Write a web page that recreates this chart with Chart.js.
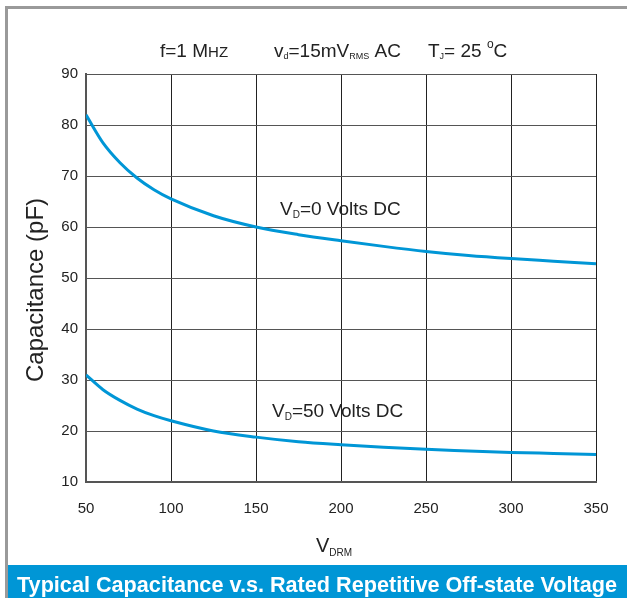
<!DOCTYPE html>
<html>
<head>
<meta charset="utf-8">
<script src="https://cdn.jsdelivr.net/npm/chart.js@4"></script>
<style>
  html, body { margin: 0; padding: 0; background: #fff; }
  #wrap { width: 627px; height: 598px; position: relative; }
</style>
</head>
<body>
<div id="wrap"><canvas id="cap"></canvas></div>
<script>
// off-state voltage V_DRM (V)
var vdrm = [50, 60, 70, 80, 90, 100, 125, 150, 175, 200, 225, 250, 275, 300, 325, 350];
// capacitance (pF)
var capVd0 = [82, 76.5, 72.6, 69.6, 67.3, 65.5, 62.2, 60, 58.5, 57.3, 56.2, 55.2, 54.4, 53.8, 53.3, 52.8];
var capVd50 = [31, 28.1, 26.0, 24.3, 23.0, 22.0, 20.0, 18.8, 17.9, 17.3, 16.8, 16.4, 16.1, 15.8, 15.6, 15.4];
var xTicks = [50, 100, 150, 200, 250, 300, 350];
var yTicks = [10, 20, 30, 40, 50, 60, 70, 80, 90];

var FONT = '"Liberation Sans", Arial, Helvetica, sans-serif';
var BLUE = '#0096d6';

function pts(ys) {
    return vdrm.map(function (v, i) { return { x: v, y: ys[i] }; });
}

// draws text pieces: [text, size, dy]
function runs(ctx, x, y, parts) {
    parts.forEach(function (p) {
        ctx.font = p[1] + 'px ' + FONT;
        ctx.fillText(p[0], x, y + (p[2] || 0));
        x += ctx.measureText(p[0]).width;
    });
}

var decor = {
    id: 'decor',
    beforeDraw: function (chart) {
        var ctx = chart.ctx;
        ctx.save();
        ctx.fillStyle = '#fff';
        ctx.fillRect(0, 0, 627, 598);
        // frame
        ctx.fillStyle = '#9a9a9a';
        ctx.fillRect(5, 6, 3, 592);
        ctx.fillRect(5, 6, 622, 3);
        // banner
        ctx.fillStyle = BLUE;
        ctx.fillRect(8, 565, 619, 33);
        ctx.fillStyle = '#fff';
        ctx.textBaseline = 'alphabetic';
        var banner = 'Typical Capacitance v.s. Rated Repetitive Off-state Voltage';
        ctx.font = 'bold 22px ' + FONT;
        var w = ctx.measureText(banner).width;
        ctx.translate(17, 592);
        ctx.scale(600 / w, 1);
        ctx.fillText(banner, 0, 0);
        ctx.restore();
    },
    afterDraw: function (chart) {
        var ctx = chart.ctx;
        ctx.save();
        ctx.fillStyle = '#222';
        ctx.textBaseline = 'alphabetic';
        ctx.textAlign = 'left';
        // header conditions
        runs(ctx, 160, 57, [['f=1 M', 19], ['HZ', 15]]);
        runs(ctx, 274, 57, [['v', 19], ['d', 9, 2], ['=15mV', 19], ['RMS', 9, 2], [' AC', 19]]);
        runs(ctx, 428, 57, [['T', 19], ['J', 9, 2], ['= 25 ', 19], ['o', 12, -9], ['C', 19]]);
        // curve labels
        runs(ctx, 280, 215, [['V', 19], ['D', 10, 3], ['=0 Volts DC', 19]]);
        runs(ctx, 272, 417, [['V', 19], ['D', 10, 3], ['=50 Volts DC', 19]]);
        // x title
        runs(ctx, 316, 552, [['V', 20], ['DRM', 10, 4]]);
        // y title
        ctx.translate(43, 290);
        ctx.rotate(-Math.PI / 2);
        ctx.textAlign = 'center';
        ctx.font = '24px ' + FONT;
        ctx.fillText('Capacitance (pF)', 0, 0);
        ctx.restore();
    }
};

new Chart(document.getElementById('cap'), {
    type: 'line',
    data: {
        datasets: [
            { label: 'VD=0 Volts DC', data: pts(capVd0) },
            { label: 'VD=50 Volts DC', data: pts(capVd50) }
        ]
    },
    options: {
        responsive: true,
        maintainAspectRatio: false,
        animation: false,
        layout: { padding: { left: 0, top: 74, right: 31, bottom: 0 } },
        elements: {
            line: { borderColor: BLUE, borderWidth: 3, cubicInterpolationMode: 'monotone', fill: false },
            point: { radius: 0 }
        },
        plugins: { legend: { display: false }, tooltip: { enabled: false } },
        scales: {
            x: {
                type: 'linear', min: 50, max: 350,
                afterBuildTicks: function (s) { s.ticks = xTicks.map(function (v) { return { value: v }; }); },
                afterFit: function (s) { s.height = 116; },
                grid: { color: '#222', lineWidth: 1, drawTicks: false },
                border: { color: '#555', width: 2 },
                ticks: { color: '#222', font: { family: FONT, size: 15 }, padding: 18, maxRotation: 0 }
            },
            y: {
                min: 10, max: 90,
                afterBuildTicks: function (s) { s.ticks = yTicks.map(function (v) { return { value: v }; }); },
                afterFit: function (s) { s.width = 86; },
                grid: { color: '#555', lineWidth: 1, drawTicks: false },
                border: { color: '#555', width: 2 },
                ticks: { color: '#222', font: { family: FONT, size: 15 }, padding: 8 }
            }
        }
    },
    plugins: [decor]
});
</script>
</body>
</html>
